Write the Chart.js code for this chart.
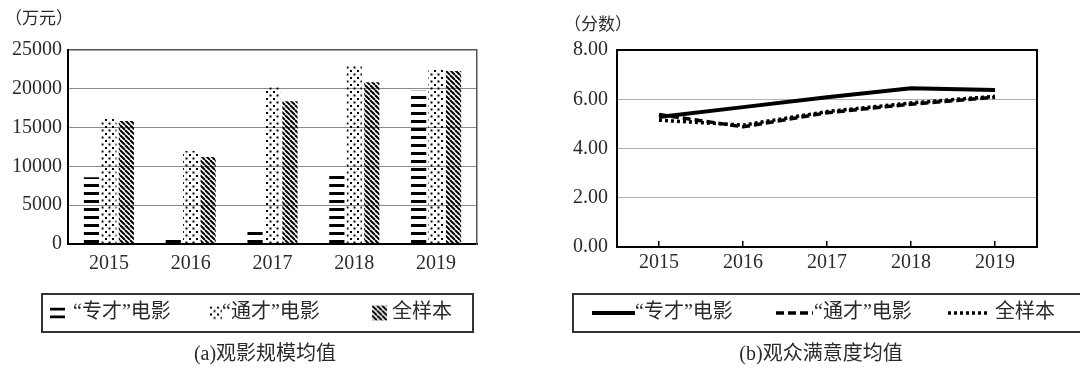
<!DOCTYPE html>
<html>
<head>
<meta charset="utf-8">
<script src="https://cdn.jsdelivr.net/npm/chart.js@4.4.1/dist/chart.umd.min.js"></script>
<style>
  html, body { margin: 0; padding: 0; background: #fff; }
  #wrap { position: relative; width: 1080px; height: 374px; }
  canvas { position: absolute; top: 0; }
  #scaleChart { left: 0; }
  #scoreChart { left: 540px; }
</style>
</head>
<body>
<div id="wrap">
  <canvas id="scaleChart" width="540" height="374"></canvas>
  <canvas id="scoreChart" width="540" height="374"></canvas>
</div>
<script>
// data
var years = ['2015', '2016', '2017', '2018', '2019'];
var seriesNames = ['“专才”电影', '“通才”电影', '全样本'];

var zhuancaiScale = [8600, 850, 1900, 8750, 19750];
var tongcaiScale = [16200, 12000, 20200, 23050, 22550];
var allScale = [15850, 11200, 18400, 20850, 22300];

var zhuancaiScore = [5.28, 5.68, 6.08, 6.45, 6.38];
var tongcaiScore = [5.38, 4.88, 5.45, 5.80, 6.08];
var allScore = [5.15, 4.95, 5.50, 5.85, 6.12];

var scaleTicks = [0, 5000, 10000, 15000, 20000, 25000];
var scoreTicks = [0, 2, 4, 6, 8];

var FONT = '"Liberation Serif", "Noto Sans CJK SC", serif';
var TEXT = '#2a2a2a';

function makePattern(kind) {
  var c = document.createElement('canvas');
  var g = c.getContext('2d');
  if (kind === 'hstripe') {
    c.width = 8; c.height = 8;
    g.fillStyle = '#000';
    g.fillRect(0, 0, 8, 3);
  } else if (kind === 'dots') {
    c.width = 7; c.height = 7;
    g.fillStyle = '#000';
    g.fillRect(0, 0, 2, 2);
    g.fillRect(3.5, 3.5, 2, 2);
  } else {
    c.width = 5; c.height = 5;
    g.strokeStyle = '#000';
    g.lineWidth = 2;
    for (var k = -5; k <= 5; k += 5) {
      g.beginPath();
      g.moveTo(k, 0);
      g.lineTo(k + 5, 5);
      g.stroke();
    }
  }
  return g.createPattern(c, 'repeat');
}

// legend box, unit label and caption under each chart
var decorPlugin = {
  id: 'decor',
  afterDraw: function (chart, args, opts) {
    var ctx = chart.ctx;
    var sets = chart.data.datasets;
    ctx.save();
    ctx.fillStyle = TEXT;
    ctx.font = '17px ' + FONT;
    ctx.textAlign = 'left';
    ctx.textBaseline = 'middle';
    ctx.fillText(opts.unit, opts.unitX, opts.unitY);

    var b = opts.box;
    ctx.strokeStyle = '#333';
    ctx.lineWidth = 2;
    ctx.strokeRect(b[0], b[1], b[2], b[3]);

    var cy = b[1] + b[3] / 2;
    ctx.font = '20px ' + FONT;
    for (var i = 0; i < sets.length; i++) {
      var ds = sets[i];
      var sx = opts.symbolX[i];
      if (chart.config.type === 'bar') {
        var sz = opts.symbolSize[i];
        ctx.save();
        ctx.translate(sx, cy - sz[1] / 2);
        ctx.fillStyle = ds.backgroundColor;
        ctx.fillRect(0, 0, sz[0], sz[1]);
        ctx.restore();
      } else {
        ctx.save();
        ctx.strokeStyle = ds.borderColor;
        ctx.lineWidth = ds.borderWidth;
        ctx.setLineDash(ds.borderDash || []);
        ctx.beginPath();
        ctx.moveTo(sx, cy);
        ctx.lineTo(sx + opts.lineLen[i], cy);
        ctx.stroke();
        ctx.restore();
      }
      ctx.fillStyle = TEXT;
      ctx.fillText(ds.label, opts.textX[i], cy);
    }

    ctx.textAlign = 'center';
    ctx.fillText(opts.caption, opts.captionX, opts.captionY);
    ctx.restore();
  }
};

var scaleChart = new Chart(document.getElementById('scaleChart').getContext('2d'), {
  type: 'bar',
  data: {
    labels: years,
    datasets: [
      { label: seriesNames[0], data: zhuancaiScale, backgroundColor: makePattern('hstripe') },
      { label: seriesNames[1], data: tongcaiScale, backgroundColor: makePattern('dots') },
      { label: seriesNames[2], data: allScale, backgroundColor: makePattern('diag') }
    ]
  },
  options: {
    responsive: false,
    animation: false,
    events: [],
    layout: { padding: { top: 50, bottom: 100, left: 0, right: 63 } },
    datasets: { bar: { categoryPercentage: 0.64, barPercentage: 0.87 } },
    plugins: {
      legend: { display: false },
      tooltip: { enabled: false },
      decor: {
        unit: '（万元）', unitX: 5, unitY: 20,
        box: [42, 294, 431, 38],
        symbolX: [50, 210, 372],
        symbolSize: [[15, 11], [12, 13], [15, 15]],
        textX: [73, 222, 392],
        caption: '(a)观影规模均值', captionX: 265, captionY: 355
      }
    },
    scales: {
      x: {
        grid: { drawOnChartArea: false, drawTicks: false },
        border: { color: '#000', width: 2 },
        ticks: { color: TEXT, font: { family: FONT, size: 20 }, padding: 8, maxRotation: 0, autoSkip: false },
        afterFit: function (s) { s.height = 30; }
      },
      y: {
        min: 0, max: 25000,
        afterBuildTicks: function (s) { s.ticks = scaleTicks.map(function (v) { return { value: v }; }); },
        ticks: { color: TEXT, font: { family: FONT, size: 20 }, padding: 6, callback: function (v) { return String(v); } },
        grid: {
          drawTicks: false,
          color: function (c) { return c.tick && c.tick.value === 25000 ? '#555' : '#8a8a8a'; },
          lineWidth: function (c) { return c.tick && c.tick.value === 25000 ? 1.5 : 1; }
        },
        border: { color: '#000', width: 2 },
        afterFit: function (s) { s.width = 68; }
      },
      y2: {
        position: 'right',
        ticks: { display: false },
        grid: { drawOnChartArea: false, drawTicks: false },
        border: { color: '#555', width: 1.5 },
        afterFit: function (s) { s.width = 0; }
      }
    }
  },
  plugins: [decorPlugin]
});

var scoreChart = new Chart(document.getElementById('scoreChart').getContext('2d'), {
  type: 'line',
  data: {
    labels: years,
    datasets: [
      { label: seriesNames[0], data: zhuancaiScore, borderColor: '#000', borderWidth: 4, pointRadius: 0, tension: 0 },
      { label: seriesNames[1], data: tongcaiScore, borderColor: '#000', borderWidth: 3.5, borderDash: [8, 4], pointRadius: 0, tension: 0 },
      { label: seriesNames[2], data: allScore, borderColor: '#000', borderWidth: 3.5, borderDash: [3, 3], pointRadius: 0, tension: 0 }
    ]
  },
  options: {
    responsive: false,
    animation: false,
    events: [],
    layout: { padding: { top: 50, bottom: 97, left: 0, right: 43 } },
    plugins: {
      legend: { display: false },
      tooltip: { enabled: false },
      decor: {
        unit: '（分数）', unitX: 24, unitY: 26,
        box: [33, 294, 512, 38],
        symbolX: [52, 236, 408],
        lineLen: [43, 37, 42],
        textX: [95, 274, 455],
        caption: '(b)观众满意度均值', captionX: 281, captionY: 355
      }
    },
    scales: {
      x: {
        offset: true,
        grid: { drawOnChartArea: false, drawTicks: true, tickLength: -6, color: '#000', lineWidth: 1.5 },
        border: { color: '#000', width: 2 },
        ticks: { color: TEXT, font: { family: FONT, size: 20 }, padding: 10, maxRotation: 0, autoSkip: false },
        afterFit: function (s) { s.height = 30; }
      },
      y: {
        min: 0, max: 8,
        afterBuildTicks: function (s) { s.ticks = scoreTicks.map(function (v) { return { value: v }; }); },
        ticks: { color: TEXT, font: { family: FONT, size: 20 }, padding: 9, callback: function (v) { return v.toFixed(2); } },
        grid: {
          drawTicks: false,
          color: function (c) { return c.tick && c.tick.value === 8 ? '#000' : '#b0b0b0'; },
          lineWidth: function (c) { return c.tick && c.tick.value === 8 ? 2 : 1; }
        },
        border: { color: '#000', width: 2 },
        afterFit: function (s) { s.width = 77; }
      },
      y2: {
        position: 'right',
        ticks: { display: false },
        grid: { drawOnChartArea: false, drawTicks: false },
        border: { color: '#000', width: 2 },
        afterFit: function (s) { s.width = 0; }
      }
    }
  },
  plugins: [decorPlugin]
});
</script>
</body>
</html>
